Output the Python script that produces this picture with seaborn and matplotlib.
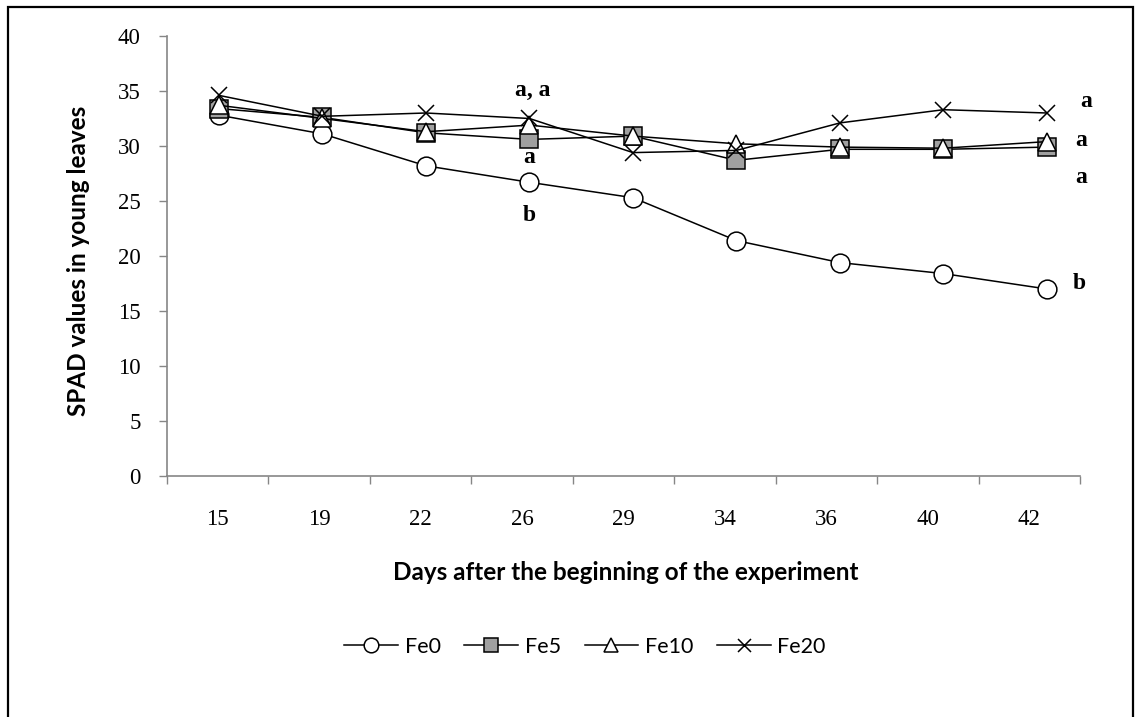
import numpy as np
import pandas as pd
import matplotlib
matplotlib.use("Agg")
import matplotlib.pyplot as plt
import seaborn as sns
from matplotlib.patches import Rectangle

# SPAD readings in young leaves for four Fe treatments
days = ["15", "19", "22", "26", "29", "34", "36", "40", "42"]
fe0 = [32.8, 31.1, 28.2, 26.7, 25.3, 21.4, 19.4, 18.4, 17.0]
fe5 = [33.4, 32.6, 31.2, 30.6, 30.9, 28.7, 29.7, 29.7, 29.9]
fe10 = [33.7, 32.5, 31.3, 31.9, 30.9, 30.2, 29.9, 29.8, 30.4]
fe20 = [34.6, 32.7, 33.0, 32.5, 29.4, 29.6, 32.1, 33.3, 33.0]
y_ticks = [0, 5, 10, 15, 20, 25, 30, 35, 40]

pos = np.arange(len(days))
df = pd.DataFrame({"pos": pos, "Fe0": fe0, "Fe5": fe5, "Fe10": fe10, "Fe20": fe20})

series_style = {
    "Fe0": dict(marker="o", markersize=13.5, markerfacecolor="white"),
    "Fe5": dict(marker="s", markersize=12.5, markerfacecolor="#a0a0a0"),
    "Fe10": dict(marker="^", markersize=12.5, markerfacecolor="white"),
    "Fe20": dict(marker="x", markersize=12, markerfacecolor="none"),
}

W, H = 1142, 717
fig = plt.figure(figsize=(W / 100, H / 100), dpi=100)
fig.patch.set_facecolor("white")

axis_grey = "#868686"
serif = ["Liberation Serif", "DejaVu Serif"]
sans_bold = ["Lato", "DejaVu Sans"]

# category axis (labels and frame)
ax = fig.add_axes([167 / W, 1 - 476 / H, (1080 - 167) / W, (476 - 36) / H])
ax.set_xlim(-0.5, len(days) - 0.5)
ax.set_ylim(0, 40)
for s in ["top", "right"]:
    ax.spines[s].set_visible(False)
for s in ["left", "bottom"]:
    ax.spines[s].set_color(axis_grey)
    ax.spines[s].set_linewidth(1.2)

ax.set_yticks(y_ticks)
ax.set_yticklabels([str(v) for v in y_ticks], family=serif, fontsize=16.5)
ax.tick_params(axis="y", direction="out", length=6, width=1.0, color=axis_grey, pad=13)

ax.set_xticks(pos)
ax.set_xticklabels(days, family=serif, fontsize=16.5)
ax.set_xticks(np.arange(-0.5, len(days)), minor=True)
ax.tick_params(axis="x", which="major", length=0, pad=24)
ax.tick_params(axis="x", which="minor", direction="out", length=6, width=1.0, color=axis_grey)

ax.set_ylabel("SPAD values in young leaves", family=sans_bold, fontweight="bold",
              fontsize=17.5, va="center", ha="center")
ax.yaxis.set_label_coords((79 - 167) / 913, 0.49)
ax.set_xlabel("Days after the beginning of the experiment", family=sans_bold,
              fontweight="bold", fontsize=17.5, va="center", ha="center")
ax.xaxis.set_label_coords((626 - 167) / 913, (476 - 572) / 440)

# data layer
ax_data = ax.twiny()
ax_data.set_xlim(-0.5024, 8.319)
for name, st in series_style.items():
    sns.lineplot(data=df, x="pos", y=name, ax=ax_data, color="black", linewidth=1.1,
                 markeredgecolor="black", markeredgewidth=1.1, label=name, **st)
ax_data.set_ylim(0, 40)
ax_data.xaxis.set_visible(False)
for s in ax_data.spines.values():
    s.set_visible(False)
ax_data.set_xlabel("")
ax_data.set_ylabel("")

handles, labels = ax_data.get_legend_handles_labels()
if ax_data.get_legend() is not None:
    ax_data.get_legend().remove()

# significance letters
letter_kw = dict(family=serif, fontweight="bold", fontsize=17, ha="center", va="center",
                 color="black")
i26 = days.index("26")
ax_data.annotate("a, a", (i26, fe20[i26]), xytext=(2, 20.5), textcoords="offset points", **letter_kw)
ax_data.annotate("a", (i26, fe5[i26]), xytext=(0, -13), textcoords="offset points", **letter_kw)
ax_data.annotate("b", (i26, fe0[i26]), xytext=(0, -24), textcoords="offset points", **letter_kw)
last = len(days) - 1
ax_data.annotate("a", (last, fe20[last]), xytext=(28, 8), textcoords="offset points", **letter_kw)
ax_data.annotate("a", (last, fe10[last]), xytext=(24.5, 1), textcoords="offset points", **letter_kw)
ax_data.annotate("a", (last, fe5[last]), xytext=(24.5, -22), textcoords="offset points", **letter_kw)
ax_data.annotate("b", (last, fe0[last]), xytext=(23, 4), textcoords="offset points", **letter_kw)

fig.legend(handles, labels, loc="center", bbox_to_anchor=(585 / W, 1 - 647 / H), ncol=4,
           frameon=False, handlelength=2.5, handletextpad=0.3, columnspacing=1.1,
           markerscale=0.78, prop=dict(family=["Lato", "DejaVu Sans"], size=15.5))

# outer frame
fig.add_artist(Rectangle((8 / W, -0.05), (1133 - 8) / W, 1.05 - 7 / H,
                         transform=fig.transFigure, fill=False, edgecolor="black",
                         linewidth=1.6, clip_on=False))

fig.savefig("out.png", dpi=100, facecolor="white")
